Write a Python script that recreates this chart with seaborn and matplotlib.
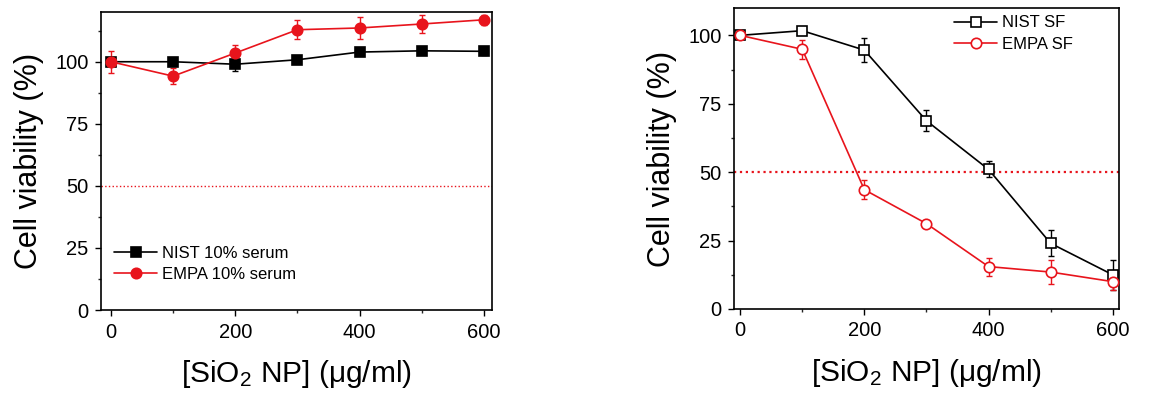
import matplotlib
matplotlib.use('Agg')
import matplotlib.pyplot as plt
from matplotlib.ticker import MultipleLocator
import seaborn as sns

# concentrations (ug/ml)
conc = [0, 100, 200, 300, 400, 500, 600]

# left panel: 10% serum
nist_serum = [100, 100, 99.0, 100.8, 103.9, 104.4, 104.2]
nist_serum_err = [0.5, 0.8, 2.7, 1.2, 0.8, 0.8, 1.5]
empa_serum = [100, 94.2, 103.5, 112.9, 113.6, 115.2, 116.9]
empa_serum_err = [4.4, 3.2, 3.4, 3.9, 4.4, 3.7, 2.0]

# right panel: serum free
nist_sf = [100, 101.7, 94.6, 68.8, 51.0, 24.0, 12.5]
nist_sf_err = [1.0, 0.8, 4.3, 3.8, 2.9, 4.8, 5.5]
empa_sf = [100, 94.9, 43.6, 31.2, 15.5, 13.5, 10.0]
empa_sf_err = [1.5, 3.4, 3.4, 0.8, 3.3, 4.4, 3.2]

sns.set_style('ticks')
plt.rcParams['font.family'] = ['Liberation Sans', 'DejaVu Sans']
plt.rcParams['mathtext.fontset'] = 'custom'
plt.rcParams['mathtext.rm'] = 'Liberation Sans'
plt.rcParams['mathtext.it'] = 'Liberation Sans:italic'
plt.rcParams['mathtext.default'] = 'rm'
plt.rcParams['text.color'] = 'black'
plt.rcParams['axes.labelcolor'] = 'black'

fig = plt.figure(figsize=(11.73, 4.07), dpi=100)
ax1 = fig.add_axes([0.0861, 0.2383, 0.3333, 0.732])
ax2 = fig.add_axes([0.6257, 0.2408, 0.3282, 0.7396])


def draw(ax, y, err, color, marker, filled, label):
    ax.errorbar(conc, y, yerr=err, fmt='none', ecolor=color, elinewidth=1,
                capsize=2.5, capthick=1, zorder=2)
    sns.lineplot(x=conc, y=y, ax=ax, color=color, marker=marker,
                 markersize=7.5, mec=color, mew=1.2,
                 mfc=color if filled else 'white', lw=1.2, label=label,
                 zorder=3)


draw(ax1, nist_serum, nist_serum_err, 'black', 's', True, 'NIST 10% serum')
draw(ax1, empa_serum, empa_serum_err, '#e8141c', 'o', True, 'EMPA 10% serum')
draw(ax2, nist_sf, nist_sf_err, 'black', 's', False, 'NIST SF')
draw(ax2, empa_sf, empa_sf_err, '#e8141c', 'o', False, 'EMPA SF')

ax1.axhline(50, color='#e8141c', ls=':', lw=1)
ax2.axhline(50, color='#e8141c', ls=':', lw=1.6)

ax1.set_xlim(-16, 613)
ax1.set_ylim(0, 120)
ax2.set_xlim(-10, 610)
ax2.set_ylim(0, 110)

for ax in (ax1, ax2):
    ax.set_xticks([0, 200, 400, 600])
    ax.xaxis.set_minor_locator(MultipleLocator(100))
    ax.set_yticks([0, 25, 50, 75, 100])
    ax.yaxis.set_minor_locator(MultipleLocator(12.5))
    ax.tick_params(which='major', direction='out', length=4, width=1,
                   labelsize=14.5, colors='black', pad=5)
    ax.tick_params(which='minor', direction='out', length=2.5, width=1)
    for s in ax.spines.values():
        s.set_visible(True)
        s.set_linewidth(1.2)
        s.set_color('black')
    ax.set_xlabel(r'[SiO$_2$ NP] ($\mu$g/ml)', fontsize=21.5, labelpad=12)
    ax.set_ylabel('Cell viability (%)', fontsize=22, labelpad=8)

ax1.legend(loc='lower left', bbox_to_anchor=(-0.005, 0.043), frameon=False,
           fontsize=12, handlelength=2.6, handletextpad=0.3, labelspacing=0.4)
ax2.legend(loc='upper right', bbox_to_anchor=(0.92, 1.025), frameon=False,
           fontsize=12, handlelength=2.6, handletextpad=0.3, labelspacing=0.4)

fig.savefig('out.png', dpi=100)
